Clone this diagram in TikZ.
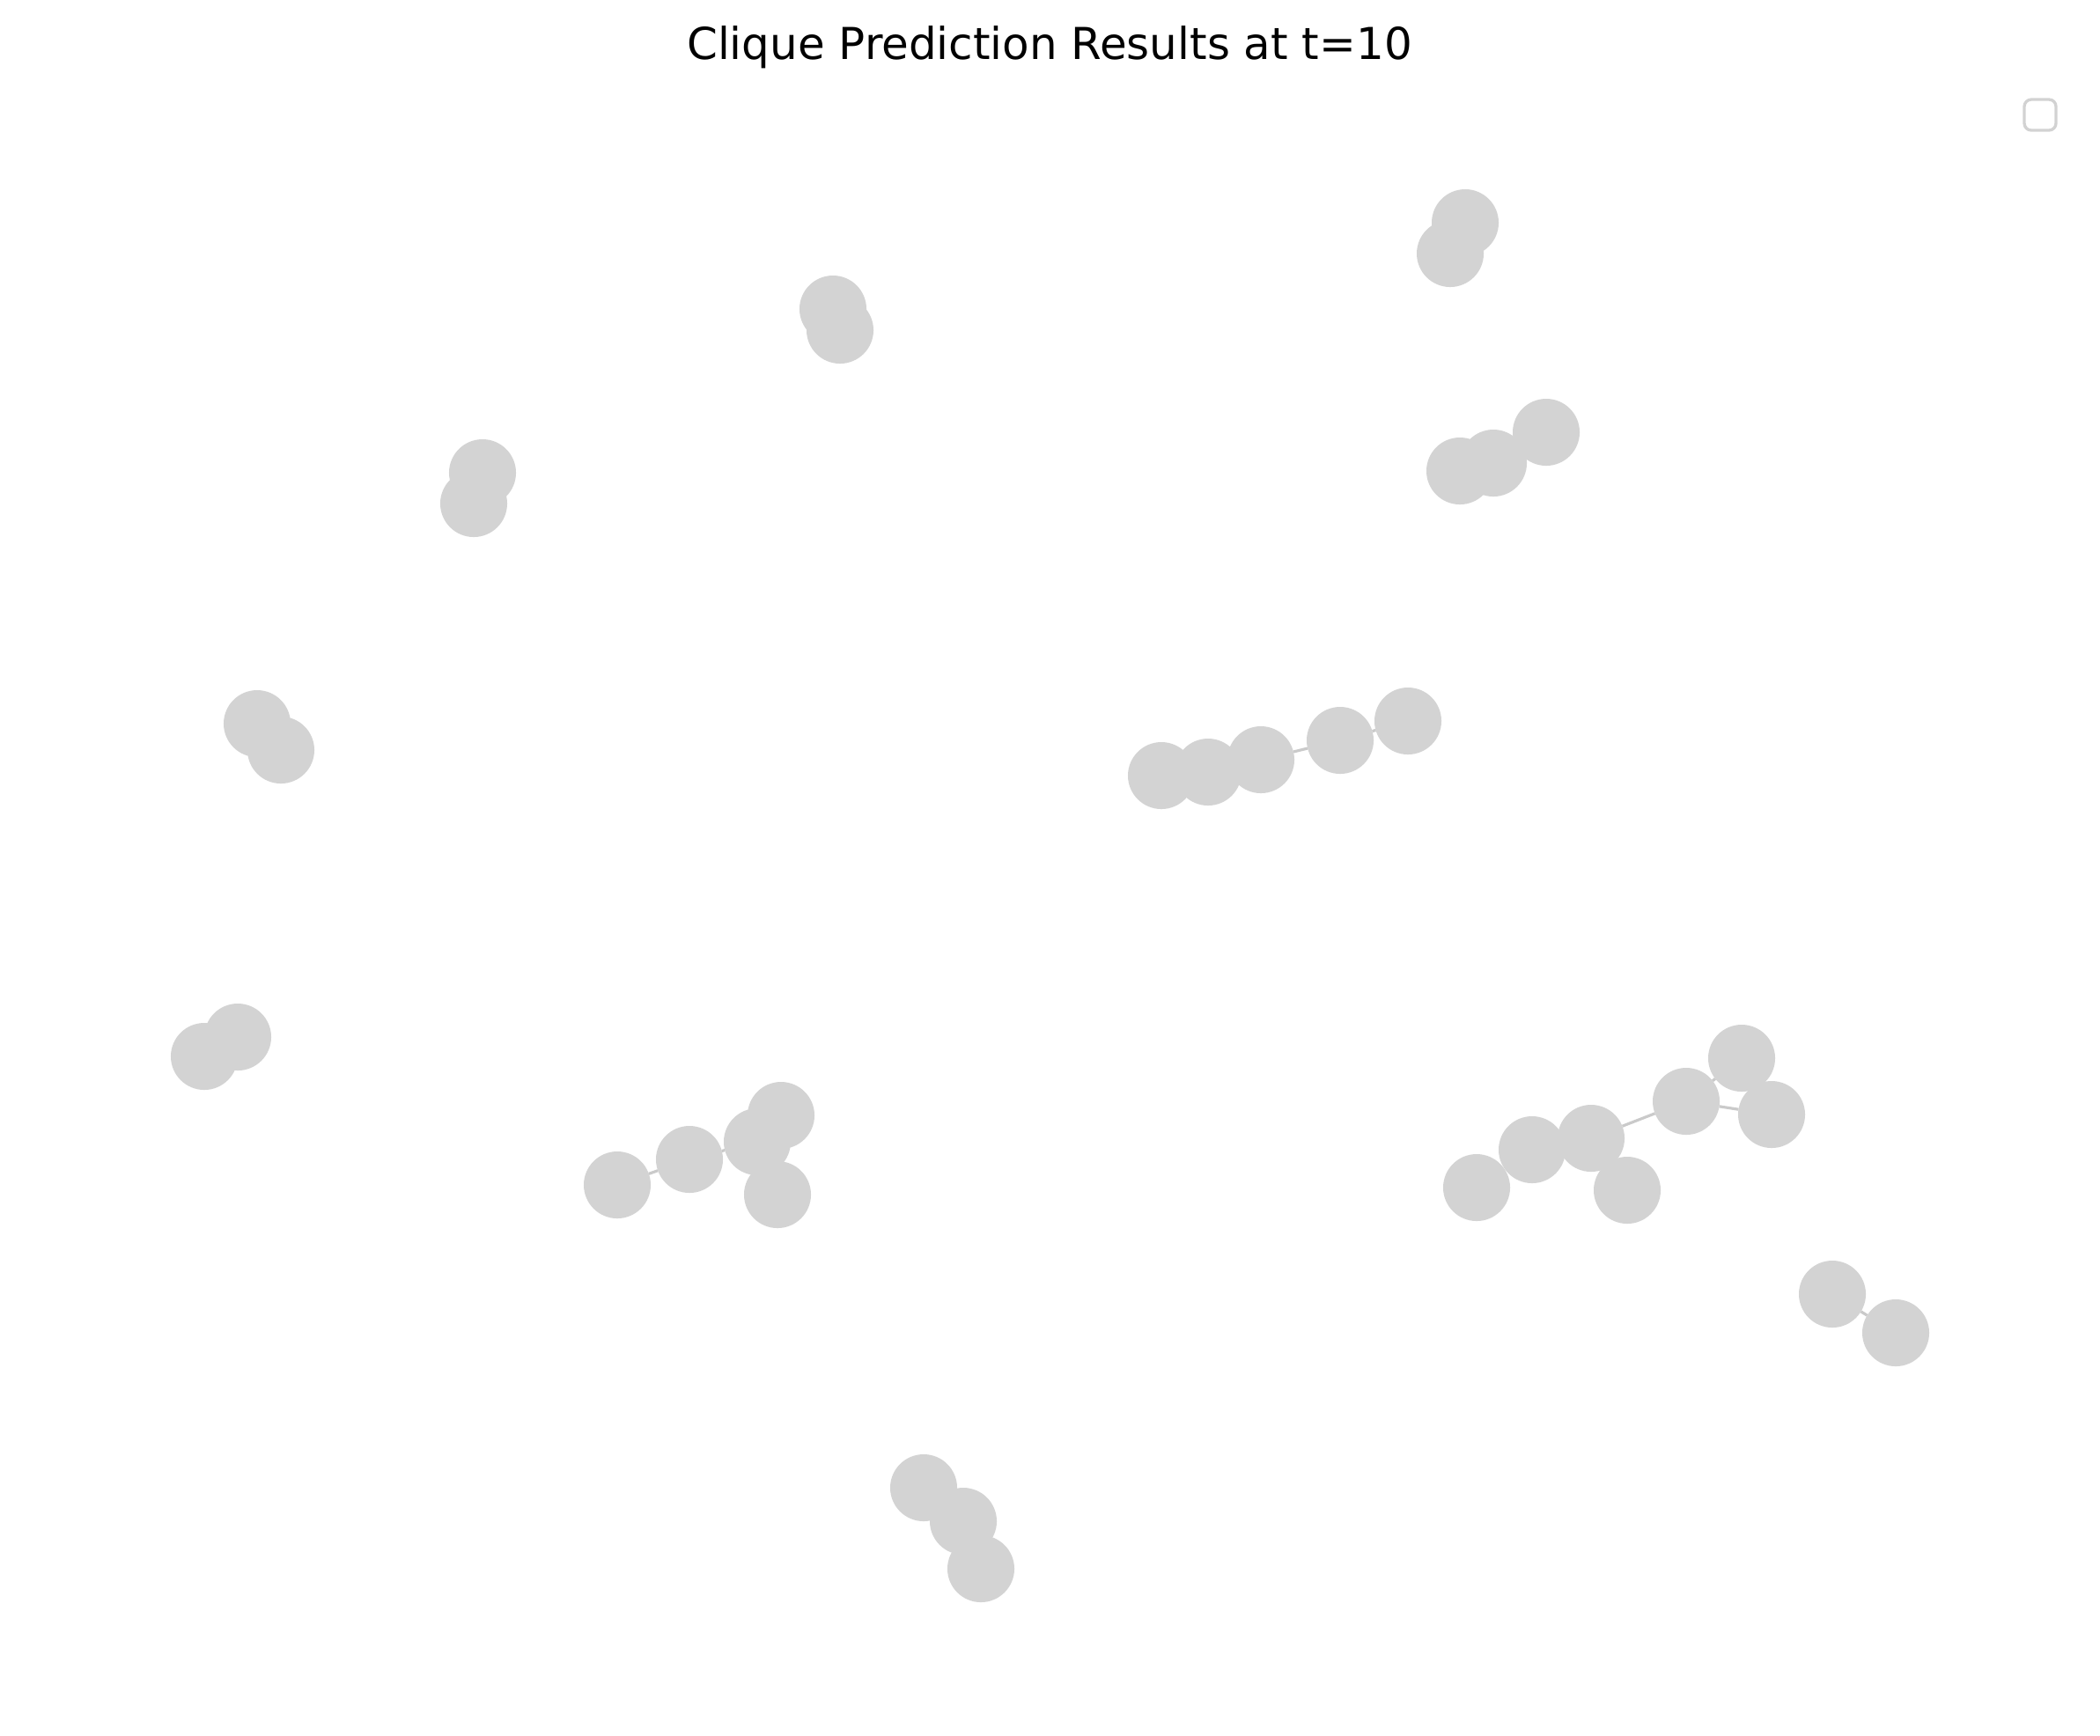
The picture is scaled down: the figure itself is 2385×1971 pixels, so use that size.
\documentclass[tikz,border=0pt]{standalone}
\usepackage{fontspec}
\setmainfont{DejaVu Sans}
\usetikzlibrary{backgrounds}
\definecolor{nodegray}{RGB}{211,211,211}
\definecolor{edgegray}{RGB}{202,202,202}
\definecolor{framegray}{RGB}{210,210,210}
\begin{document}
\begin{tikzpicture}[x=0.01cm,y=-0.01cm,
  vertex/.style={circle,fill=nodegray,minimum size=0.76cm,inner sep=0pt,outer sep=0pt},
  link/.style={draw=edgegray,line width=0.9pt}]
\useasboundingbox (0,0) rectangle (2385,1971);

\node[anchor=base,font=\fontsize{14.2}{17}\selectfont] (title) at (1192,67) {Clique Prediction Results at t=10};
\draw[framegray,line width=0.95pt,rounded corners=0.8mm] (2299,113) rectangle (2335,148);

\node[vertex] (ta) at (1664,253) {};
\node[vertex] (tb) at (1647,288) {};

\node[vertex] (ua) at (946,351) {};
\node[vertex] (ub) at (954,375) {};

\node[vertex] (va) at (1658,535) {};
\node[vertex] (vb) at (1696,526) {};
\node[vertex] (vc) at (1756,491) {};

\node[vertex] (wa) at (548,537) {};
\node[vertex] (wb) at (538,572) {};

\node[vertex] (xa) at (292,822) {};
\node[vertex] (xb) at (319,852) {};

\node[vertex] (ma) at (1319,881) {};
\node[vertex] (mb) at (1372,877) {};
\node[vertex] (mc) at (1432,863) {};
\node[vertex] (md) at (1522,841) {};
\node[vertex] (me) at (1599,819) {};

\node[vertex] (ya) at (270,1178) {};
\node[vertex] (yb) at (232,1200) {};

\node[vertex] (la) at (701,1346) {};
\node[vertex] (lb) at (783,1317) {};
\node[vertex] (lc) at (860,1297) {};
\node[vertex] (ld) at (887,1267) {};
\node[vertex] (le) at (883,1357) {};

\node[vertex] (ra) at (1677,1349) {};
\node[vertex] (rb) at (1740,1306) {};
\node[vertex] (rc) at (1807,1293) {};
\node[vertex] (rd) at (1848,1352) {};
\node[vertex] (re) at (1915,1251) {};
\node[vertex] (rf) at (1978,1202) {};
\node[vertex] (rg) at (2012,1266) {};

\node[vertex] (pa) at (2081,1470) {};
\node[vertex] (pb) at (2153,1514) {};

\node[vertex] (za) at (1049,1690) {};
\node[vertex] (zb) at (1094,1728) {};
\node[vertex] (zc) at (1114,1782) {};

\begin{scope}[on background layer]
\draw[link] (la) -- (lb);
\draw[link] (lb) -- (lc);
\draw[link] (mc) -- (md);
\draw[link] (md) -- (me);
\draw[link] (rc) -- (re);
\draw[link] (re) -- (rf);
\draw[link] (re) -- (rg);
\draw[link] (pa) -- (pb);
\end{scope}
\end{tikzpicture}
\end{document}
